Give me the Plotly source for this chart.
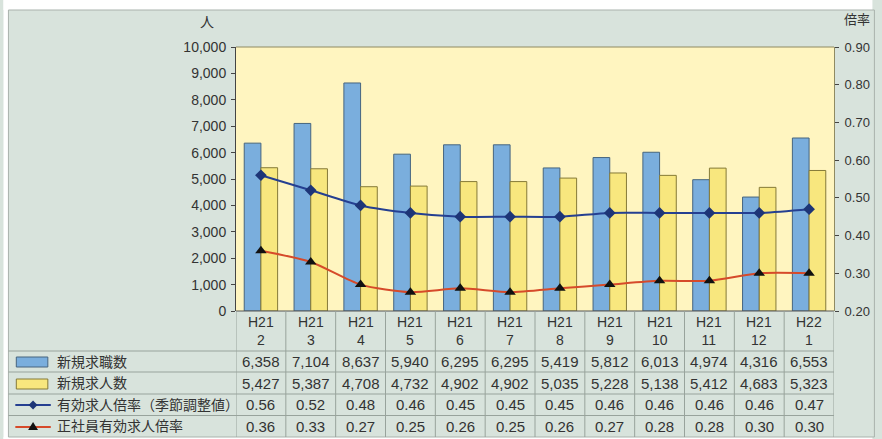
import plotly.graph_objects as go

# ---- data -------------------------------------------------------------
years = ["H21"] * 11 + ["H22"]
months = ["2", "3", "4", "5", "6", "7", "8", "9", "10", "11", "12", "1"]
new_job_seekers = [6358, 7104, 8637, 5940, 6295, 6295, 5419, 5812, 6013, 4974, 4316, 6553]
new_job_openings = [5427, 5387, 4708, 4732, 4902, 4902, 5035, 5228, 5138, 5412, 4683, 5323]
ratio_seasonal = [0.56, 0.52, 0.48, 0.46, 0.45, 0.45, 0.45, 0.46, 0.46, 0.46, 0.46, 0.47]
ratio_regular = [0.36, 0.33, 0.27, 0.25, 0.26, 0.25, 0.26, 0.27, 0.28, 0.28, 0.30, 0.30]
series_names = ["新規求職数", "新規求人数", "有効求人倍率（季節調整値）", "正社員有効求人倍率"]
left_ticks = [0, 1000, 2000, 3000, 4000, 5000, 6000, 7000, 8000, 9000, 10000]
right_ticks = [0.2, 0.3, 0.4, 0.5, 0.6, 0.7, 0.8, 0.9]

categories = [f"{y}/{m}" for y, m in zip(years, months)]

# ---- styling ----------------------------------------------------------
W, H = 882, 439
L, R, T, B = 236, 39, 47, 128
PW, PH = W - L - R, H - T - B
FONT = "Liberation Sans, Noto Sans CJK JP, sans-serif"
TXT = "#333333"
BG = "#d8e3dc"
PLOT_BG = "#fff5c0"
BLUE_BAR = "#7aaedd"
YELLOW_BAR = "#f8e77e"
BLUE_LINE = "#253f91"
RED_LINE = "#d64a2a"
GRID = "#98a39c"


def px(x):
    return (x - L) / PW


def py(y):
    return (H - B - y) / PH


fig = go.Figure()

fig.add_trace(go.Bar(
    x=categories, y=new_job_seekers, name=series_names[0],
    marker=dict(color=BLUE_BAR, line=dict(color="#46657f", width=1)),
))
fig.add_trace(go.Bar(
    x=categories, y=new_job_openings, name=series_names[1],
    marker=dict(color=YELLOW_BAR, line=dict(color="#857a38", width=1)),
))
fig.add_trace(go.Scatter(
    x=categories, y=ratio_seasonal, name=series_names[2], yaxis="y2",
    mode="lines+markers",
    line=dict(color=BLUE_LINE, width=2, shape="spline", smoothing=0.7),
    marker=dict(symbol="diamond", size=9, color="#1d3577"),
))
fig.add_trace(go.Scatter(
    x=categories, y=ratio_regular, name=series_names[3], yaxis="y2",
    mode="lines+markers",
    line=dict(color=RED_LINE, width=2, shape="spline", smoothing=0.7),
    marker=dict(symbol="triangle-up", size=10, color="#111111"),
))

shapes = []
# white margin above, left of and below the panel
for x0, x1, y0, y1 in [(0, W, 0, 10), (0, 5, 0, H), (0, W, 437, H)]:
    shapes.append(dict(type="rect", xref="paper", yref="paper",
                       x0=px(x0), x1=px(x1), y0=py(y1), y1=py(y0),
                       fillcolor="white", line=dict(width=0), layer="above"))
# panel frame
shapes.append(dict(type="rect", xref="paper", yref="paper",
                   x0=px(5), x1=px(W + 2), y0=py(437), y1=py(10),
                   line=dict(color="#a9b2ac", width=1)))
# plot top border
shapes.append(dict(type="line", xref="paper", yref="paper",
                   x0=0, x1=1, y0=1, y1=1, line=dict(color="#8f8a62", width=1)))

# data table grid
shapes.append(dict(type="line", xref="paper", yref="paper",
                   x0=0, x1=1, y0=0, y1=0, line=dict(color="#555555", width=1)))
row_lines = [351, 372, 394, 415.5]
for yy in row_lines:
    shapes.append(dict(type="line", xref="paper", yref="paper",
                       x0=px(5), x1=1, y0=py(yy), y1=py(yy),
                       line=dict(color=GRID, width=1)))
for i in range(len(categories) + 1):
    shapes.append(dict(type="line", xref="x", yref="paper",
                       x0=i - 0.5, x1=i - 0.5, y0=py(311), y1=py(437),
                       line=dict(color=GRID, width=1)))

# legend keys inside the table
shapes.append(dict(type="rect", xref="paper", yref="paper",
                   x0=px(13), x1=px(45), y0=py(367), y1=py(357),
                   fillcolor=BLUE_BAR, line=dict(color="#46657f", width=1)))
shapes.append(dict(type="rect", xref="paper", yref="paper",
                   x0=px(13), x1=px(45), y0=py(389), y1=py(379),
                   fillcolor=YELLOW_BAR, line=dict(color="#857a38", width=1)))
shapes.append(dict(type="line", xref="paper", yref="paper",
                   x0=px(12), x1=px(48), y0=py(405), y1=py(405),
                   line=dict(color=BLUE_LINE, width=2)))
shapes.append(dict(type="path", xref="paper", yref="paper",
                   path=(f"M {px(30)} {py(400.5)} L {px(34.5)} {py(405)} "
                         f"L {px(30)} {py(409.5)} L {px(25.5)} {py(405)} Z"),
                   fillcolor="#1d3577", line=dict(width=0)))
shapes.append(dict(type="line", xref="paper", yref="paper",
                   x0=px(12), x1=px(48), y0=py(427), y1=py(427),
                   line=dict(color=RED_LINE, width=2)))
shapes.append(dict(type="path", xref="paper", yref="paper",
                   path=(f"M {px(30)} {py(422)} L {px(35)} {py(430)} "
                         f"L {px(25)} {py(430)} Z"),
                   fillcolor="#111111", line=dict(width=0)))

annotations = []
# axis titles
annotations.append(dict(text="人", x=px(207), y=py(22), xref="paper", yref="paper",
                        xanchor="center", yanchor="middle", showarrow=False,
                        font=dict(size=14, color=TXT, family=FONT)))
annotations.append(dict(text="倍率", x=px(866), y=py(20), xref="paper", yref="paper",
                        xanchor="center", yanchor="middle", showarrow=False,
                        font=dict(size=13, color=TXT, family=FONT)))

# table header (period)
for c, y, m in zip(categories, years, months):
    annotations.append(dict(text=f"{y}<br>{m}", x=c, y=py(331), xref="x", yref="paper",
                            xanchor="center", yanchor="middle",
                            showarrow=False, align="center",
                            font=dict(size=14, color=TXT, family=FONT)))

# table body
row_centres = [361.5, 383, 404.5, 426]
rows = [
    [f"{v:,}" for v in new_job_seekers],
    [f"{v:,}" for v in new_job_openings],
    [f"{v:.2f}" for v in ratio_seasonal],
    [f"{v:.2f}" for v in ratio_regular],
]
for yc, row, label in zip(row_centres, rows, series_names):
    annotations.append(dict(text=label, x=px(52), y=py(yc), xref="paper", yref="paper",
                            xanchor="left", yanchor="middle", showarrow=False,
                            font=dict(size=14, color=TXT, family=FONT)))
    for c, txt in zip(categories, row):
        annotations.append(dict(text=txt, x=c, y=py(yc), xref="x", yref="paper",
                                xanchor="center", yanchor="middle", showarrow=False,
                                font=dict(size=15, color=TXT, family=FONT)))

fig.update_layout(
    width=W, height=H,
    margin=dict(l=L, r=R, t=T, b=B, pad=0),
    paper_bgcolor=BG, plot_bgcolor=PLOT_BG,
    barmode="group", bargap=0.33, bargroupgap=0,
    showlegend=False,
    font=dict(family=FONT, color=TXT, size=14),
    xaxis=dict(type="category", range=[-0.5, len(categories) - 0.5],
               showticklabels=False, ticks="", showgrid=False, zeroline=False,
               showline=False, fixedrange=True),
    yaxis=dict(range=[0, 10000], tickvals=left_ticks, tickformat=",",
               showgrid=False, zeroline=False, showline=True, linecolor="#444444",
               linewidth=1, ticks="outside", ticklen=4, tickcolor="#444444",
               ticklabelstandoff=2,
               tickfont=dict(size=14, color=TXT, family=FONT)),
    yaxis2=dict(range=[0.2, 0.9], tickvals=right_ticks, tickformat=".2f",
                overlaying="y", side="right", showgrid=False, zeroline=False,
                showline=True, linecolor="#8f8a62", linewidth=1,
                ticks="outside", ticklen=4, tickcolor="#444444",
                ticklabelstandoff=3,
                tickfont=dict(size=13, color=TXT, family=FONT)),
    shapes=shapes,
    annotations=annotations,
)

fig.write_html("out.html")
